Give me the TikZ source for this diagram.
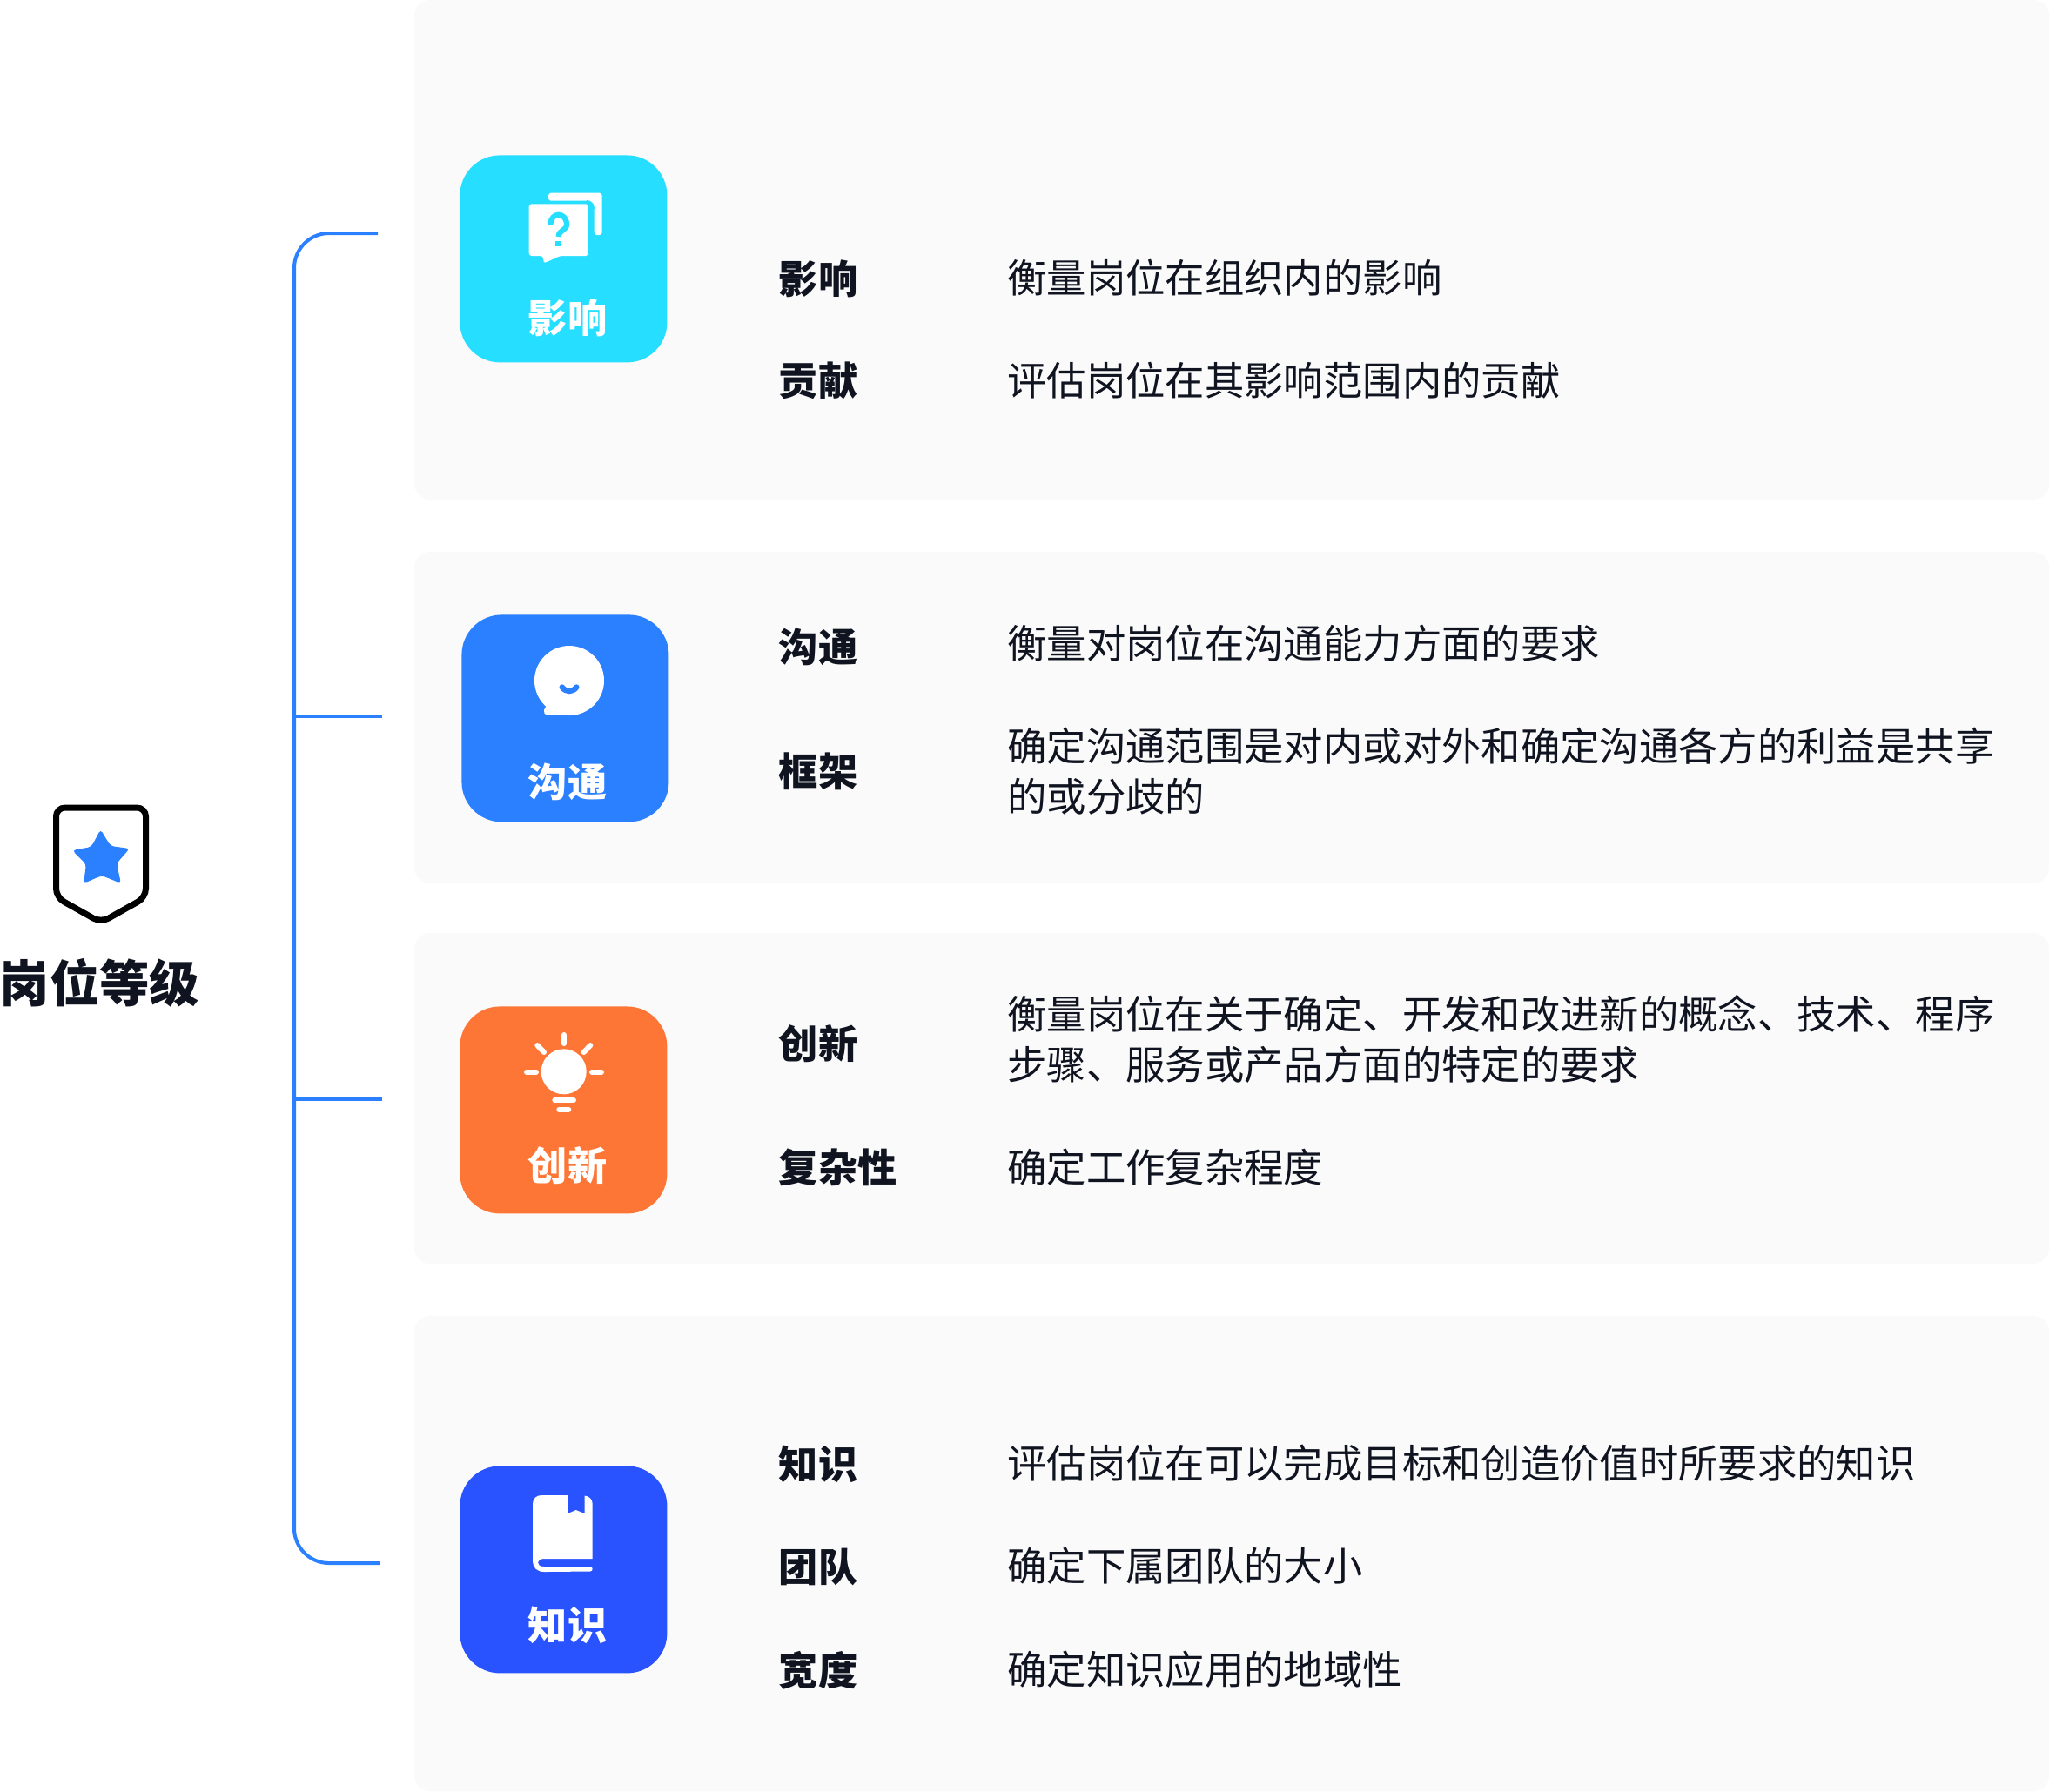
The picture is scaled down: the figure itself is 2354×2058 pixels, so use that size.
\documentclass[tikz,border=0pt]{standalone}
\usepackage{fontspec}
\setmainfont{Noto Sans CJK SC}
\usetikzlibrary{positioning}
\definecolor{inkdark}{HTML}{0F1420}
\definecolor{panelgrey}{HTML}{FAFAFA}
\definecolor{linkblue}{HTML}{2B80FF}
\definecolor{tilecyan}{HTML}{26DEFF}
\definecolor{tileblue}{HTML}{2B80FF}
\definecolor{tileorange}{HTML}{FD7636}
\definecolor{tileroyal}{HTML}{2953FF}
\tikzset{
  panel/.style={fill=panelgrey, rounded corners=9pt},
  tile/.style={rectangle, rounded corners=23pt, minimum size=119pt, inner sep=0pt, anchor=north west},
  tilelabel/.style={text=white, inner sep=0pt, font=\fontsize{22.6}{27}\selectfont\bfseries},
  rowlabel/.style={text=inkdark, anchor=west, inner sep=0pt, font=\fontsize{22.6}{27}\selectfont\bfseries},
  rowtext/.style={text=inkdark, anchor=west, inner sep=0pt, align=left, font=\fontsize{22.68}{29.3}\selectfont},
  link/.style={draw=linkblue, line width=2pt},
  ray/.style={draw=white, line width=3pt, line cap=round},
}
\begin{document}
\begin{tikzpicture}[x=0.5pt, y=-0.5pt]
    \useasboundingbox (0,0) rectangle (2354,2058);
    \path[panel] (476,0) rectangle (2354,574);
    \path[panel] (476,634) rectangle (2354,1015);
    \path[panel] (476,1072) rectangle (2354,1452);
    \path[panel] (476,1512) rectangle (2354,2058);
    % root
    \draw[line width=3.5pt, black, rounded corners=5pt] (64.5,928) -- (167.5,928) -- (167.5,1031) -- (116,1060) -- (64.5,1031) -- cycle;
    \fill[linkblue, rounded corners=2pt] (115.5,953) -- (127,972) -- (149,975) -- (134,992) -- (139,1015) -- (117,1006) -- (96,1015) -- (99,993) -- (83,977) -- (105,973) -- cycle;
    \node[text=inkdark, inner sep=0pt, font=\fontsize{28.7}{34}\selectfont\bfseries] (root) at (114.5,1129) {岗位等级};
    % connectors
    \coordinate (end1) at (434,268);
    \coordinate (end2) at (439,823);
    \coordinate (end3) at (439,1263);
    \coordinate (end4) at (436,1796);
    \coordinate (top) at (338,268);
    \coordinate (bottom) at (338,1796);
    \coordinate (mid2) at (338,823);
    \coordinate (mid3) at (335,1263);
    \draw[link, rounded corners=20pt] (end1) -- (top) -- (bottom) -- (end4);
    \draw[link] (mid2) -- (end2);
    \draw[link] (mid3) -- (end3);
    % tiles
    \node[tile, fill=tilecyan] (tile1) at (528,178) {};
    \node[tile, fill=tileblue] (tile2) at (530,706) {};
    \node[tile, fill=tileorange] (tile3) at (528,1156) {};
    \node[tile, fill=tileroyal] (tile4) at (528,1684) {};
    \node[tilelabel] (name1) at ([shift={(124,187)}]tile1.north west) {影响};
    \node[tilelabel] (name2) at ([shift={(122,192.5)}]tile2.north west) {沟通};
    \node[tilelabel] (name3) at ([shift={(124,183)}]tile3.north west) {创新};
    \node[tilelabel] (name4) at ([shift={(124,183)}]tile4.north west) {知识};
    % icons
    \begin{scope}[shift={(tile1.north west)}]
      \fill[white, rounded corners=1.5pt] (102,43.7) -- (163.7,43.7) -- (163.7,92) -- (154.7,92) -- (154.7,52.7) -- (102,52.7) -- cycle;
      \fill[tilecyan] (146,52) rectangle (155,62);
      \fill[white] (148,52.7) .. controls (152,52.7) and (154.7,56) .. (154.7,60) -- (160,60) -- (160,50) -- cycle;
      \fill[white, rounded corners=1.5pt] (79.7,56.3) -- (147.7,56.3) -- (147.7,116) -- (115.3,116) -- (98.7,123.7) -- (96,122.7) -- (96,116) -- (79.7,116) -- cycle;
      \draw[tilecyan, line width=3.1pt] (104.5,80) .. controls (104.5,65) and (123,65) .. (123,80) .. controls (123,87) and (113.7,86) .. (113.7,94);
      \fill[tilecyan] (110.3,98.7) rectangle (117,104.7);
    \end{scope}
    \begin{scope}[shift={(tile2.north west)}]
      \fill[white] (124,76) circle (40);
      \fill[white, rounded corners=1pt] (98,104) -- (94.3,111.3) -- (96.7,115.7) -- (124,115.7) -- (124,90) -- cycle;
      \draw[tileblue, line width=3.2pt, line cap=round] (115.7,83.5) .. controls (120,89.5) and (128,89.5) .. (132.3,83.5);
    \end{scope}
    \begin{scope}[shift={(tile3.north west)}]
      \fill[white] (119.7,75.3) circle (26);
      \draw[ray] (119.7,33) -- (119.7,43);
      \draw[ray] (77,75.7) -- (88,75.7);
      \draw[ray] (152,75.7) -- (163,75.7);
      \draw[ray] (89.3,45) -- (97,53);
      \draw[ray] (150.3,45) -- (142.7,53);
      \draw[ray] (109.3,108.3) -- (131,108.3);
      \draw[ray] (114.3,118.7) -- (125.3,118.7);
    \end{scope}
    \begin{scope}[shift={(tile4.north west)}]
      \fill[white] (84,44) .. controls (84,38) and (88,34) .. (94,34) -- (124.3,34) -- (124.3,55) -- (133.7,51) -- (143.7,55) -- (143.7,34.5) .. controls (149,35) and (152.7,39) .. (152.7,44) -- (152.7,107) -- (97,107) .. controls (92,107) and (90,109) .. (90,111.5) .. controls (90,114) and (92,116) .. (97,116) -- (150,116) .. controls (153.5,116) and (153.5,121.5) .. (150,121.5) -- (97,122) .. controls (89,122) and (84,117) .. (84,110) -- cycle;
    \end{scope}
    % rows
    \node[rowlabel] (lab1) at (894.5,320) {影响};
    \node[rowtext] (txt1) at (1157,319) {衡量岗位在组织内的影响};
    \node[rowlabel] (lab2) at (894.5,437) {贡献};
    \node[rowtext] (txt2) at (1157,437) {评估岗位在其影响范围内的贡献};
    \node[rowlabel] (lab3) at (894.5,743) {沟通};
    \node[rowtext] (txt3) at (1157,739) {衡量对岗位在沟通能力方面的要求};
    \node[rowlabel] (lab4) at (894.5,886) {框架};
    \node[rowtext] (txt4) at (1157,886) {确定沟通范围是对内或对外和确定沟通各方的利益是共享\\的或分歧的};
    \node[rowlabel] (lab5) at (894.5,1199) {创新};
    \node[rowtext] (txt5) at (1157,1194) {衡量岗位在关于确定、开发和改进新的概念、技术、程序\\步骤、服务或产品方面的特定的要求};
    \node[rowlabel] (lab6) at (894.5,1341) {复杂性};
    \node[rowtext] (txt6) at (1157,1341) {确定工作复杂程度};
    \node[rowlabel] (lab7) at (894.5,1682) {知识};
    \node[rowtext] (txt7) at (1157,1681) {评估岗位在可以完成目标和创造价值时所要求的知识};
    \node[rowlabel] (lab8) at (894.5,1800) {团队};
    \node[rowtext] (txt8) at (1157,1799) {确定下属团队的大小};
    \node[rowlabel] (lab9) at (894.5,1919) {宽度};
    \node[rowtext] (txt9) at (1157,1918) {确定知识应用的地域性};
\end{tikzpicture}
\end{document}
